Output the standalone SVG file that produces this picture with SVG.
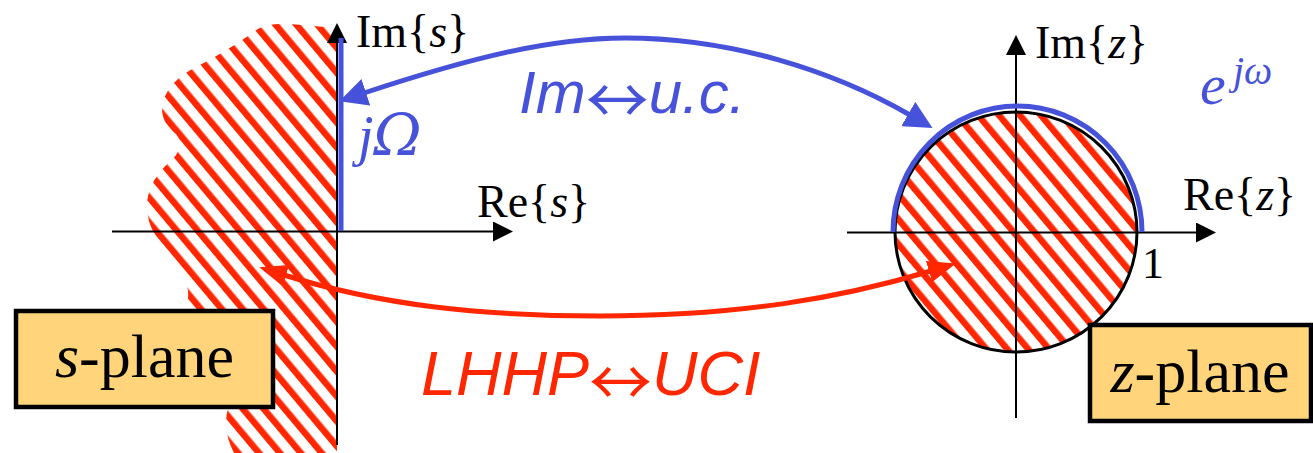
<svg xmlns="http://www.w3.org/2000/svg" width="1313" height="453" viewBox="0 0 1313 453">
  <style>
    .axis { stroke: #000; stroke-width: 2; fill: none; }
    .serif { font-family: "Liberation Serif", "Times New Roman", serif; fill: #000; }
    .it { font-style: italic; }
    .box { fill: #FFD47A; stroke: #000; stroke-width: 4.5; }
    .blue { stroke: #4752DA; stroke-width: 5; fill: none; }
    .red { stroke: #FF2600; stroke-width: 5; fill: none; }
    .bluetxt { fill: #4752DA; }
    .redtxt { fill: #FF2600; }
    .sans { font-family: "Liberation Sans", Arial, sans-serif; font-style: italic; }
    .arr { font-family: "Noto Sans CJK JP", "DejaVu Sans", sans-serif; font-style: normal; }
    .omega { font-family: "DejaVu Serif", serif; font-style: italic; }
  </style>
  <defs>
    <pattern id="hatch" patternUnits="userSpaceOnUse" width="16" height="16" patternTransform="rotate(-40)">
      <rect x="0" y="0" width="6.5" height="16" fill="#FF2600"/>
    </pattern>
    <marker id="axisArrow" markerUnits="userSpaceOnUse" markerWidth="20" markerHeight="20" viewBox="0 0 20 20" refX="0" refY="10" orient="auto">
      <path d="M0,0 L20,10 L0,20 Z" fill="#000"/>
    </marker>
    <marker id="blueHead" markerUnits="userSpaceOnUse" markerWidth="28" markerHeight="28" viewBox="0 0 28 28" refX="2" refY="14" orient="auto-start-reverse">
      <path d="M0,0 L28,14 L0,28 Z" fill="#4752DA"/>
    </marker>
    <marker id="redHead" markerUnits="userSpaceOnUse" markerWidth="28" markerHeight="22" viewBox="0 0 28 22" refX="2" refY="11" orient="auto-start-reverse">
      <path d="M0,0 L28,11 L0,22 Z" fill="#FF2600"/>
    </marker>
  </defs>

  <rect x="0" y="0" width="1313" height="453" fill="#fff"/>

  <g id="s-plane">
    <path d="M337,28 L290,24 Q262,22 248,36 Q225,52 198,66 Q165,82 162,108 Q162,124 176,134 Q185,146 172,160 Q150,178 147,202 Q146,222 156,236 Q162,258 182,276 Q192,290 186,308 L228,408 Q222,430 234,453 L337,453 Z" fill="url(#hatch)"/>
    <line class="axis" x1="337" y1="445" x2="337" y2="43" marker-end="url(#axisArrow)"/>
    <line class="axis" x1="112" y1="231.5" x2="493" y2="231.5" marker-end="url(#axisArrow)"/>
    <line class="blue" x1="341" y1="38" x2="341" y2="231"/>
    <text class="serif" x="356" y="47" font-size="46">Im{<tspan class="it">s</tspan>}</text>
    <text class="serif" x="477" y="217" font-size="46">Re{<tspan class="it">s</tspan>}</text>
    <text class="serif it bluetxt" x="358" y="155" font-size="56">j<tspan class="omega" font-size="58">Ω</tspan></text>
  </g>

  <g id="z-plane">
    <ellipse cx="1016" cy="232" rx="121" ry="120" fill="url(#hatch)" stroke="#000" stroke-width="3"/>
    <line class="axis" x1="1016" y1="418" x2="1016" y2="55" marker-end="url(#axisArrow)"/>
    <line class="axis" x1="847" y1="232.5" x2="1196" y2="232.5" marker-end="url(#axisArrow)"/>
    <path class="blue" d="M893,232 A124.5,126 0 0 1 1142,232"/>
    <text class="serif" x="1035" y="58" font-size="46">Im{<tspan class="it">z</tspan>}</text>
    <text class="serif" x="1183" y="210" font-size="46">Re{<tspan class="it">z</tspan>}</text>
    <text class="serif" x="1142" y="278" font-size="44">1</text>
    <text class="serif it bluetxt" x="1200" y="104" font-size="58">e<tspan x="1233" y="84" font-size="40">jω</tspan></text>
  </g>

  <g id="connectors">
    <path class="blue" d="M364,93 C470,58 550,38 625,38 C730,38 832,70 910,115" marker-start="url(#blueHead)" marker-end="url(#blueHead)"/>
    <path class="red" d="M284,275 C380,305 480,316 600,316 C740,316 840,298 931,271" marker-start="url(#redHead)" marker-end="url(#redHead)"/>
  </g>

  <g id="label-im-uc">
    <text class="sans bluetxt" x="519" y="113" font-size="60">Im<tspan class="arr" font-size="63" dy="10">↔</tspan><tspan dy="-10">u.c.</tspan></text>
  </g>
  <g id="label-lhhp-uci">
    <text class="sans redtxt" x="421" y="395" font-size="63">LHHP<tspan class="arr" font-size="63" dy="10">↔</tspan><tspan dy="-10">UCI</tspan></text>
  </g>

  <g id="s-plane-label">
    <rect class="box" x="16" y="311" width="257" height="96"/>
    <text class="serif" x="144.5" y="377" font-size="62" text-anchor="middle"><tspan class="it">s</tspan>-plane</text>
  </g>
  <g id="z-plane-label">
    <rect class="box" x="1090" y="325" width="221" height="96"/>
    <text class="serif" x="1200" y="392" font-size="62" text-anchor="middle"><tspan class="it">z</tspan>-plane</text>
  </g>
</svg>
